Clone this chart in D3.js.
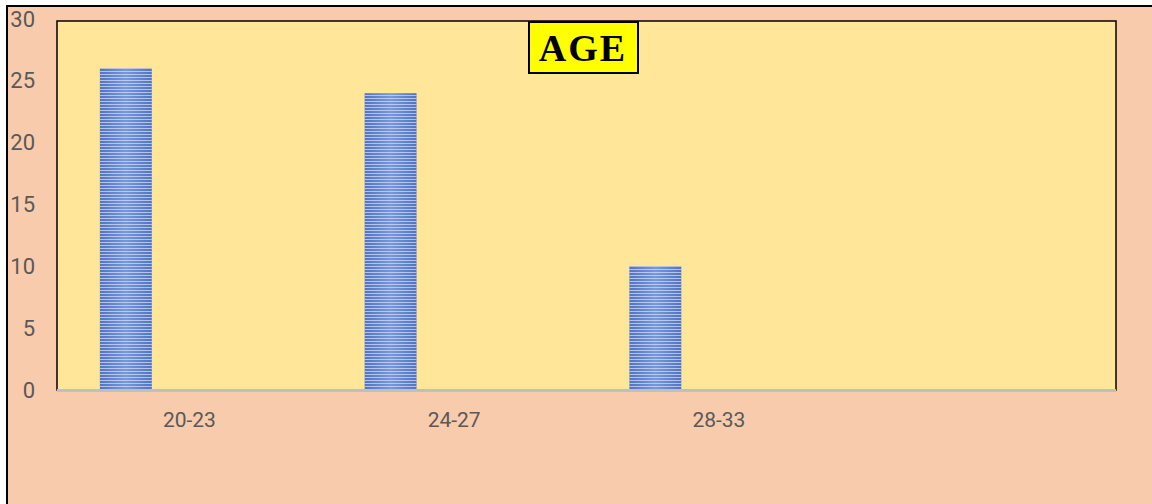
<!DOCTYPE html>
<head>
  <meta charset="utf-8">
  <script src="https://d3js.org/d3.v7.min.js"></script>
  <style>
    html, body { margin: 0; padding: 0; background: #fff; }
    svg { display: block; }
    .tick text { font-family: Roboto, "Open Sans", sans-serif; fill: #595959; }
  </style>
</head>
<body>
  <svg width="1152" height="504"></svg>
  <script>
    // data
    var categories = ['20-23', '24-27', '28-33', ''];
    var values = [26, 24, 10, null];
    var yTicks = [0, 5, 10, 15, 20, 25, 30];
    var title = 'AGE';

    var svg = d3.select('svg');
    var plot = {left: 57, right: 1116, top: 21, bottom: 390};

    var defs = svg.append('defs');
    // blue bar: darker edges, lighter middle
    var grad = defs.append('linearGradient').attr('id', 'barGrad');
    grad.append('stop').attr('offset', '0%').attr('stop-color', '#5273c2');
    grad.append('stop').attr('offset', '50%').attr('stop-color', '#7897dc');
    grad.append('stop').attr('offset', '100%').attr('stop-color', '#5273c2');
    // thin horizontal stripes on top
    var pat = defs.append('pattern').attr('id', 'stripes')
      .attr('patternUnits', 'userSpaceOnUse')
      .attr('width', 8).attr('height', 3);
    pat.append('rect').attr('y', 2).attr('width', 8).attr('height', 1)
      .attr('fill', '#d0dcf6').attr('fill-opacity', 0.75);

    // outer chart area (right and bottom edges run off the page)
    svg.append('rect')
      .attr('x', 7).attr('y', 6).attr('width', 1200).attr('height', 540)
      .attr('fill', '#f8cbad').attr('stroke', '#000').attr('stroke-width', 2);

    // plot area
    svg.append('rect')
      .attr('x', plot.left).attr('y', plot.top)
      .attr('width', plot.right - plot.left).attr('height', plot.bottom - plot.top)
      .attr('fill', '#ffe699').attr('stroke', '#000').attr('stroke-width', 1.5);

    var x = d3.scaleBand()
      .domain(categories)
      .range([plot.left, plot.right])
      .padding(0);
    var y = d3.scaleLinear()
      .domain([0, 30])
      .range([390, 19]);

    // bar sits left of the category centre (one of several series slots)
    var barOffset = x.bandwidth() * 0.162;
    var barWidth = x.bandwidth() * 0.196;

    var bars = svg.append('g').selectAll('g')
      .data(categories.map(function(c, i) { return {cat: c, v: values[i]}; })
        .filter(function(d) { return d.v != null; }))
      .enter().append('g');
    bars.append('rect')
      .attr('x', function(d) { return x(d.cat) + barOffset; })
      .attr('y', function(d) { return y(d.v); })
      .attr('width', barWidth)
      .attr('height', function(d) { return y(0) - y(d.v); })
      .attr('fill', 'url(#barGrad)');
    bars.append('rect')
      .attr('x', function(d) { return x(d.cat) + barOffset; })
      .attr('y', function(d) { return y(d.v); })
      .attr('width', barWidth)
      .attr('height', function(d) { return y(0) - y(d.v); })
      .attr('fill', 'url(#stripes)');

    // y axis labels only
    var yAxis = svg.append('g')
      .attr('transform', 'translate(35,0)')
      .call(d3.axisLeft(y).tickValues(yTicks).tickSize(0).tickPadding(0));
    yAxis.select('.domain').remove();
    yAxis.selectAll('text').style('font-size', '22px');

    // category axis: gray baseline, labels below
    svg.append('line')
      .attr('x1', plot.left).attr('x2', plot.right)
      .attr('y1', y(0) + 0.5).attr('y2', y(0) + 0.5)
      .attr('stroke', '#bfbfbf').attr('stroke-width', 3);
    var xAxis = svg.append('g')
      .attr('transform', 'translate(0,' + y(0) + ')')
      .call(d3.axisBottom(x).tickSize(0).tickPadding(22));
    xAxis.select('.domain').remove();
    xAxis.selectAll('text').style('font-size', '21px');

    // title box
    var tb = svg.append('g').attr('transform', 'translate(583,48)');
    tb.append('rect')
      .attr('x', -54).attr('y', -26).attr('width', 109).attr('height', 51)
      .attr('fill', '#ffff00').attr('stroke', '#000').attr('stroke-width', 2);
    tb.append('text')
      .attr('text-anchor', 'middle').attr('y', 13)
      .style('font-family', '"Liberation Serif", "DejaVu Serif", serif')
      .style('font-weight', 'bold').style('font-size', '38px')
      .style('letter-spacing', '2px')
      .text(title);
  </script>
</body>
